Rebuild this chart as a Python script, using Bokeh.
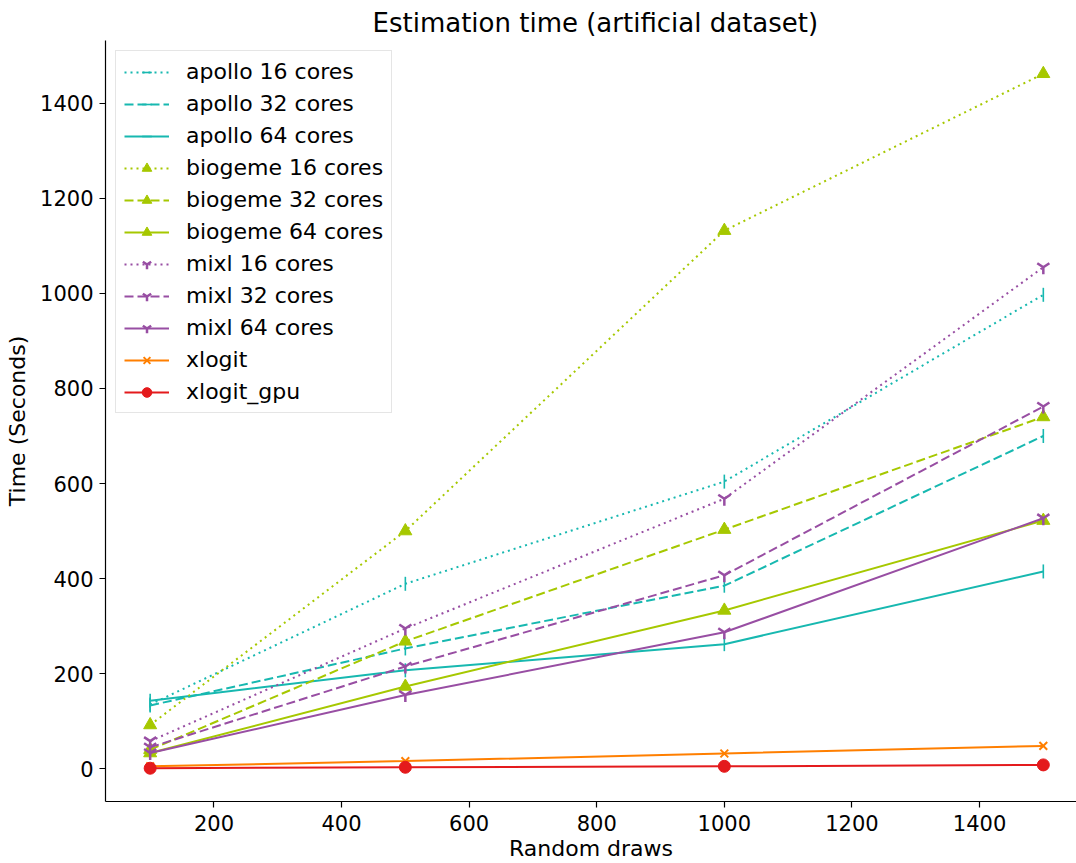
import math
from bokeh.plotting import figure
from bokeh.models import Range1d, FixedTicker
from bokeh.embed import file_html
from bokeh.resources import INLINE

draws = [100, 500, 1000, 1500]

apollo_16 = [135, 389, 604, 997]
apollo_32 = [133, 253, 385, 700]
apollo_64 = [143, 207, 262, 415]
biogeme_16 = [92, 500, 1132, 1462]
biogeme_32 = [40, 268, 503, 740]
biogeme_64 = [33, 173, 333, 522]
mixl_16 = [58, 295, 568, 1055]
mixl_32 = [45, 215, 407, 762]
mixl_64 = [33, 155, 287, 527]
xlogit = [5, 16, 32, 48]
xlogit_gpu = [1, 3, 5, 8]

x_ticks = [200, 400, 600, 800, 1000, 1200, 1400]
y_ticks = [0, 200, 400, 600, 800, 1000, 1200, 1400]

TEAL = "#17b8b0"
YG = "#a6c800"
PURPLE = "#984ea3"
ORANGE = "#ff7f00"
RED = "#e41a1c"
FONT = "DejaVu Sans"

p = figure(width=1076, height=863, output_backend="svg", toolbar_location=None,
           x_range=Range1d(30, 1552), y_range=Range1d(-69, 1532),
           min_border_left=105, min_border_right=0, min_border_top=40, min_border_bottom=62,
           title="Estimation time (artificial dataset)")
p.outline_line_color = None
p.grid.visible = False
p.background_fill_color = "white"
p.border_fill_color = "white"

p.title.align = "left"
p.title.text_font = FONT
p.title.text_font_size = "26px"
p.title.text_font_style = "normal"
p.title.text_color = "black"
p.title.offset = 267
p.title.standoff = 6

for ax in (p.xaxis[0], p.yaxis[0]):
    ax.major_label_text_font = FONT
    ax.major_label_text_font_size = "21px"
    ax.major_label_text_color = "black"
    ax.axis_label_text_font = FONT
    ax.axis_label_text_font_size = "22px"
    ax.axis_label_text_font_style = "normal"
    ax.axis_label_text_color = "black"
    ax.axis_line_color = "black"
    ax.axis_line_width = 1.2
    ax.major_tick_line_color = "black"
    ax.major_tick_line_width = 1.2
    ax.major_tick_out = 6
    ax.major_tick_in = 0
    ax.minor_tick_line_color = None

p.xaxis.ticker = FixedTicker(ticks=x_ticks)
p.yaxis.ticker = FixedTicker(ticks=y_ticks)
p.xaxis.axis_label = "Random draws"
p.yaxis.axis_label = "Time (Seconds)"
p.xaxis.major_label_standoff = 7
p.xaxis.axis_label_standoff = 2
p.yaxis.major_label_standoff = 6
p.yaxis.axis_label_standoff = 7

DOT = "2 4"
DASH = "9 4"

series = [
    ("apollo 16 cores", apollo_16, TEAL, DOT, "dash"),
    ("apollo 32 cores", apollo_32, TEAL, DASH, "dash"),
    ("apollo 64 cores", apollo_64, TEAL, "solid", "dash"),
    ("biogeme 16 cores", biogeme_16, YG, DOT, "triangle"),
    ("biogeme 32 cores", biogeme_32, YG, DASH, "triangle"),
    ("biogeme 64 cores", biogeme_64, YG, "solid", "triangle"),
    ("mixl 16 cores", mixl_16, PURPLE, DOT, "y"),
    ("mixl 32 cores", mixl_32, PURPLE, DASH, "y"),
    ("mixl 64 cores", mixl_64, PURPLE, "solid", "y"),
    ("xlogit", xlogit, ORANGE, "solid", "x"),
    ("xlogit_gpu", xlogit_gpu, RED, "solid", "circle"),
]

for label, ys, color, dash, marker in series:
    p.line(draws, ys, line_color=color, line_width=2, line_dash=dash, legend_label=label)
    kw = dict(marker=marker, line_color=color, fill_color=color, legend_label=label)
    if marker == "dash":
        kw.update(size=14, angle=math.pi / 2, line_width=1.6)
    elif marker == "triangle":
        kw.update(size=13, line_width=1)
    elif marker == "y":
        kw.update(size=14, line_width=2.5)
    elif marker == "x":
        kw.update(size=11, line_width=2)
    else:
        kw.update(size=12, line_width=1)
    p.scatter(draws, ys, **kw)

lg = p.legend[0]
lg.location = "top_left"
lg.margin = 10
lg.padding = 8
lg.spacing = 7
lg.label_height = 24
lg.glyph_height = 24
lg.glyph_width = 45
lg.label_standoff = 17
lg.label_text_font = FONT
lg.label_text_font_size = "22px"
lg.label_text_color = "black"
lg.border_line_color = "#cccccc"
lg.border_line_width = 1.5
lg.background_fill_alpha = 0.8

open("out.html", "w").write(file_html(p, INLINE))
